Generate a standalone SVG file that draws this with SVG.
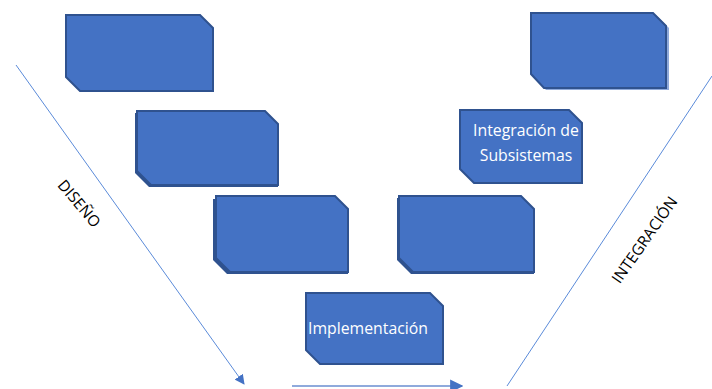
<svg xmlns="http://www.w3.org/2000/svg" width="712" height="389" viewBox="0 0 712 389">
  <style>
    .box { fill: #4472C4; stroke: #2F528F; stroke-width: 2; stroke-linejoin: miter; }
    .shade { fill: #2F528F; stroke: none; }
    .lbl { fill: #FFFFFF; font-family: "Open Sans", "Liberation Sans", sans-serif; font-size: 15.8px; text-anchor: middle; }
    .axis { fill: #000000; font-family: "Open Sans", "Liberation Sans", sans-serif; font-size: 15.5px; text-anchor: middle; }
    .thin { stroke: #5B8BD9; stroke-width: 1; fill: none; }
    .thick { stroke: #8FAADC; stroke-width: 2.2; fill: none; }
  </style>
  <defs>
    <marker id="tipBlue" viewBox="0 0 10 10" refX="9" refY="5" markerWidth="10" markerHeight="10" markerUnits="userSpaceOnUse" orient="auto">
      <path d="M0,0 L10,5 L0,10 Z" fill="#4472C4"/>
    </marker>
    <marker id="tipWide" viewBox="0 0 10 10" refX="9" refY="5" markerWidth="6" markerHeight="6" orient="auto">
      <path d="M0,0 L10,5 L0,10 Z" fill="#4472C4"/>
    </marker>
  </defs>

  <!-- connectors -->
  <g id="connectors">
    <line class="thin" x1="16" y1="65" x2="244" y2="384" marker-end="url(#tipBlue)"/>
    <line class="thick" x1="292" y1="386" x2="462" y2="386" marker-end="url(#tipWide)"/>
    <line class="thin" x1="507" y1="386" x2="712" y2="76"/>
  </g>

  <!-- design stage, top -->
  <g id="diseno-1">
    <path class="box" d="M66,15 L200,15 L213,28 L213,91 L80,91 L66,77 Z"/>
  </g>

  <!-- design stage, middle -->
  <g id="diseno-2">
    <path class="shade" d="M135,113 L265,113 L278,126 L278,187 L149,187 L135,173 Z"/>
    <path class="box" d="M137,111 L265,111 L278,124 L278,185 L151,185 L137,171 Z"/>
  </g>

  <!-- design stage, bottom -->
  <g id="diseno-3">
    <path class="shade" d="M213,199 L335,199 L348,212 L348,274 L227,274 L213,260 Z"/>
    <path class="box" d="M216,196 L335,196 L348,209 L348,272 L230,272 L216,258 Z"/>
  </g>

  <!-- implementation -->
  <g id="implementacion">
    <path class="box" d="M306,293 L430,293 L443,306 L443,364 L320,364 L306,350 Z"/>
    <text class="lbl" x="368" y="334">Implementación</text>
  </g>

  <!-- integration stage, bottom -->
  <g id="integracion-1">
    <path class="shade" d="M397,198 L521,198 L534,211 L534,274 L411,274 L397,260 Z"/>
    <path class="box" d="M399,196 L521,196 L534,209 L534,272 L413,272 L399,258 Z"/>
  </g>

  <!-- integration of subsystems -->
  <g id="integracion-subsistemas">
    <path class="box" d="M460,110 L569,110 L582,123 L582,183 L474,183 L460,169 Z"/>
    <text class="lbl" x="526" y="136">Integración de</text>
    <text class="lbl" x="526" y="161">Subsistemas</text>
  </g>

  <!-- integration stage, top -->
  <g id="integracion-2">
    <path d="M533,15 L656,15 L669,28 L669,90 L546,90 L533,76 Z" fill="#8FAADC"/>
    <path class="box" d="M531,13 L653,13 L666,26 L666,88 L544,88 L531,74 Z"/>
  </g>

  <!-- axis labels -->
  <text class="axis" transform="translate(75,207) rotate(50)">DISEÑO</text>
  <text class="axis" transform="translate(649,243) rotate(-55)">INTEGRACIÓN</text>
</svg>
